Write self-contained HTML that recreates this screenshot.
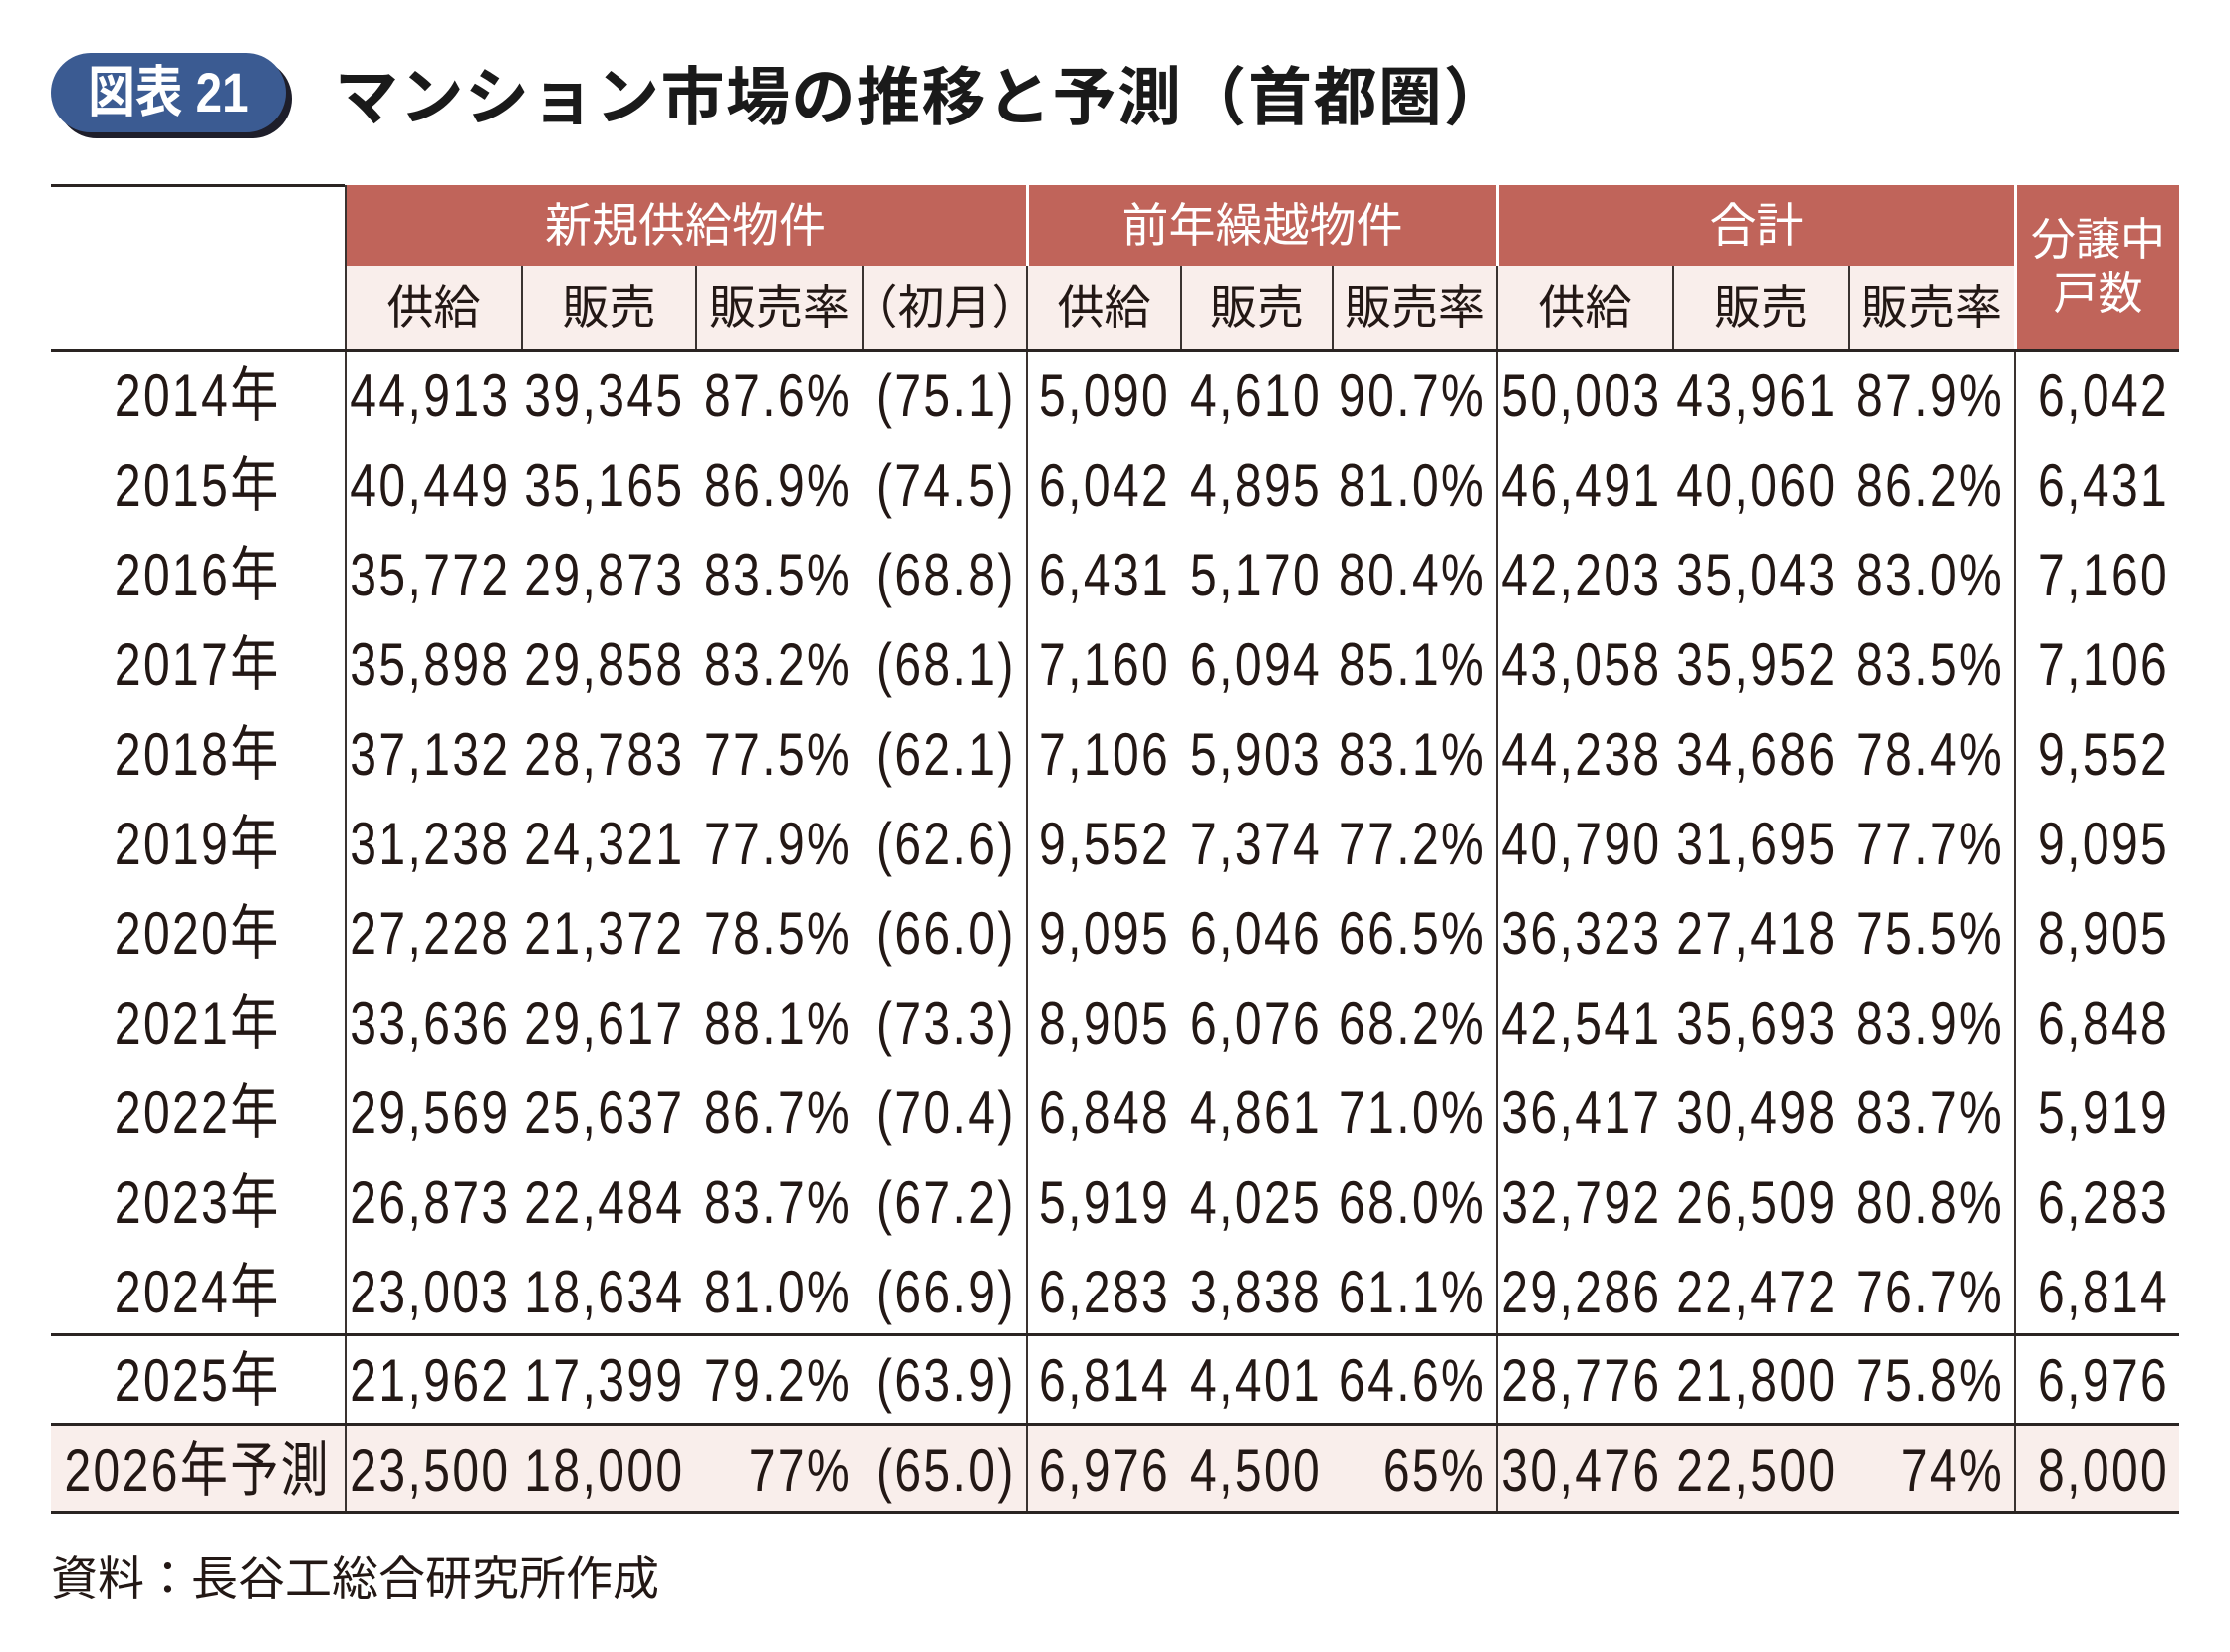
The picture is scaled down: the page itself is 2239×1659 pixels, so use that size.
<!DOCTYPE html>
<html><head><meta charset="utf-8">
<style>
*{margin:0;padding:0;box-sizing:border-box}
body{width:2239px;height:1659px;background:#fff;position:relative;overflow:hidden;font-family:"Liberation Sans","Noto Sans CJK JP",sans-serif;color:#231815}
.badge{position:absolute;left:51px;top:53px;width:236px;height:80px;border-radius:40px;background:#3b5b92;box-shadow:6px 6px 0 #1e1e2a;color:#fff;font:700 56px/80px "Liberation Sans","Noto Sans CJK JP",sans-serif;text-align:center}
.badge span{display:inline-block;transform:scaleX(0.85)}
.title{position:absolute;left:336px;top:56px;font:700 64px/84px "Liberation Sans","Noto Sans CJK JP",sans-serif;color:#1a1a1a;letter-spacing:1.5px}
.row{position:absolute;left:51px;width:2137px;display:flex}
.c{flex:none;display:flex;justify-content:flex-end;padding-right:13px;white-space:nowrap;font-size:60px}
.c span{display:inline-block;transform:scaleX(0.8);transform-origin:right center;letter-spacing:3px;margin-right:-3px}
.c.y{justify-content:center;padding-right:0}
.c.y span{transform-origin:center;margin-right:0}
.g{border-left:2px solid #3a3330}
.w0{width:295px}.w1{width:177px}.w2{width:175px}.w3{width:167px}.w4{width:165px}.w5{width:155px}.w6{width:152px}.w7{width:165px}.w8{width:177px}.w9{width:176px}.w10{width:167px}.w11{width:166px}
.d .c{height:90px;line-height:90px}
.sub{top:267px;height:84px}
.sub .c{height:84px;line-height:84px;background:#f9eeeb;justify-content:center;padding:0;font-size:47px;border-left:2px solid #3a3330}
.sub .c span{transform:none;letter-spacing:0;margin:0}
.sub .c.w0{background:#fff;border-left:none}
.hline{position:absolute;left:51px;width:2137px;background:#2a2422}
.red{position:absolute;top:186px;height:81px;background:#c0645a;color:#fff;font:47px/81px "Liberation Sans","Noto Sans CJK JP",sans-serif;text-align:center}
</style></head><body>
<div class="badge"><span>図表 21</span></div>
<div class="title">マンション市場の推移と予測（首都圏）</div>

<div class="hline" style="top:185px;width:295px;height:3px"></div>
<div class="red" style="left:346px;width:684px">新規供給物件</div>
<div class="red" style="left:1033px;width:469px">前年繰越物件</div>
<div class="red" style="left:1505px;width:517px">合計</div>
<div class="red" style="left:2025px;width:163px;height:165px;line-height:54px;padding-top:28px;font-size:45px">分譲中<br>戸数</div>
<div style="position:absolute;left:346px;top:186px;width:2px;height:165px;background:#3a3330"></div>

<div class="row sub">
<div class="c w0"></div><div class="c w1"><span>供給</span></div><div class="c w2"><span>販売</span></div><div class="c w3"><span>販売率</span></div><div class="c w4"><span>（初月）</span></div><div class="c w5"><span>供給</span></div><div class="c w6"><span>販売</span></div><div class="c w7"><span>販売率</span></div><div class="c w8"><span>供給</span></div><div class="c w9"><span>販売</span></div><div class="c w10"><span>販売率</span></div>
</div>
<div class="hline" style="top:350px;height:3px"></div>

<div class="row d" style="top:353px;flex-direction:column">
<div style="display:flex"><div class="c y w0"><span>2014年</span></div><div class="c w1 g"><span>44,913</span></div><div class="c w2"><span>39,345</span></div><div class="c w3"><span>87.6%</span></div><div class="c w4"><span>(75.1)</span></div><div class="c w5 g"><span>5,090</span></div><div class="c w6"><span>4,610</span></div><div class="c w7"><span>90.7%</span></div><div class="c w8 g"><span>50,003</span></div><div class="c w9"><span>43,961</span></div><div class="c w10"><span>87.9%</span></div><div class="c w11 g"><span>6,042</span></div></div>
<div style="display:flex"><div class="c y w0"><span>2015年</span></div><div class="c w1 g"><span>40,449</span></div><div class="c w2"><span>35,165</span></div><div class="c w3"><span>86.9%</span></div><div class="c w4"><span>(74.5)</span></div><div class="c w5 g"><span>6,042</span></div><div class="c w6"><span>4,895</span></div><div class="c w7"><span>81.0%</span></div><div class="c w8 g"><span>46,491</span></div><div class="c w9"><span>40,060</span></div><div class="c w10"><span>86.2%</span></div><div class="c w11 g"><span>6,431</span></div></div>
<div style="display:flex"><div class="c y w0"><span>2016年</span></div><div class="c w1 g"><span>35,772</span></div><div class="c w2"><span>29,873</span></div><div class="c w3"><span>83.5%</span></div><div class="c w4"><span>(68.8)</span></div><div class="c w5 g"><span>6,431</span></div><div class="c w6"><span>5,170</span></div><div class="c w7"><span>80.4%</span></div><div class="c w8 g"><span>42,203</span></div><div class="c w9"><span>35,043</span></div><div class="c w10"><span>83.0%</span></div><div class="c w11 g"><span>7,160</span></div></div>
<div style="display:flex"><div class="c y w0"><span>2017年</span></div><div class="c w1 g"><span>35,898</span></div><div class="c w2"><span>29,858</span></div><div class="c w3"><span>83.2%</span></div><div class="c w4"><span>(68.1)</span></div><div class="c w5 g"><span>7,160</span></div><div class="c w6"><span>6,094</span></div><div class="c w7"><span>85.1%</span></div><div class="c w8 g"><span>43,058</span></div><div class="c w9"><span>35,952</span></div><div class="c w10"><span>83.5%</span></div><div class="c w11 g"><span>7,106</span></div></div>
<div style="display:flex"><div class="c y w0"><span>2018年</span></div><div class="c w1 g"><span>37,132</span></div><div class="c w2"><span>28,783</span></div><div class="c w3"><span>77.5%</span></div><div class="c w4"><span>(62.1)</span></div><div class="c w5 g"><span>7,106</span></div><div class="c w6"><span>5,903</span></div><div class="c w7"><span>83.1%</span></div><div class="c w8 g"><span>44,238</span></div><div class="c w9"><span>34,686</span></div><div class="c w10"><span>78.4%</span></div><div class="c w11 g"><span>9,552</span></div></div>
<div style="display:flex"><div class="c y w0"><span>2019年</span></div><div class="c w1 g"><span>31,238</span></div><div class="c w2"><span>24,321</span></div><div class="c w3"><span>77.9%</span></div><div class="c w4"><span>(62.6)</span></div><div class="c w5 g"><span>9,552</span></div><div class="c w6"><span>7,374</span></div><div class="c w7"><span>77.2%</span></div><div class="c w8 g"><span>40,790</span></div><div class="c w9"><span>31,695</span></div><div class="c w10"><span>77.7%</span></div><div class="c w11 g"><span>9,095</span></div></div>
<div style="display:flex"><div class="c y w0"><span>2020年</span></div><div class="c w1 g"><span>27,228</span></div><div class="c w2"><span>21,372</span></div><div class="c w3"><span>78.5%</span></div><div class="c w4"><span>(66.0)</span></div><div class="c w5 g"><span>9,095</span></div><div class="c w6"><span>6,046</span></div><div class="c w7"><span>66.5%</span></div><div class="c w8 g"><span>36,323</span></div><div class="c w9"><span>27,418</span></div><div class="c w10"><span>75.5%</span></div><div class="c w11 g"><span>8,905</span></div></div>
<div style="display:flex"><div class="c y w0"><span>2021年</span></div><div class="c w1 g"><span>33,636</span></div><div class="c w2"><span>29,617</span></div><div class="c w3"><span>88.1%</span></div><div class="c w4"><span>(73.3)</span></div><div class="c w5 g"><span>8,905</span></div><div class="c w6"><span>6,076</span></div><div class="c w7"><span>68.2%</span></div><div class="c w8 g"><span>42,541</span></div><div class="c w9"><span>35,693</span></div><div class="c w10"><span>83.9%</span></div><div class="c w11 g"><span>6,848</span></div></div>
<div style="display:flex"><div class="c y w0"><span>2022年</span></div><div class="c w1 g"><span>29,569</span></div><div class="c w2"><span>25,637</span></div><div class="c w3"><span>86.7%</span></div><div class="c w4"><span>(70.4)</span></div><div class="c w5 g"><span>6,848</span></div><div class="c w6"><span>4,861</span></div><div class="c w7"><span>71.0%</span></div><div class="c w8 g"><span>36,417</span></div><div class="c w9"><span>30,498</span></div><div class="c w10"><span>83.7%</span></div><div class="c w11 g"><span>5,919</span></div></div>
<div style="display:flex"><div class="c y w0"><span>2023年</span></div><div class="c w1 g"><span>26,873</span></div><div class="c w2"><span>22,484</span></div><div class="c w3"><span>83.7%</span></div><div class="c w4"><span>(67.2)</span></div><div class="c w5 g"><span>5,919</span></div><div class="c w6"><span>4,025</span></div><div class="c w7"><span>68.0%</span></div><div class="c w8 g"><span>32,792</span></div><div class="c w9"><span>26,509</span></div><div class="c w10"><span>80.8%</span></div><div class="c w11 g"><span>6,283</span></div></div>
<div style="display:flex;height:88px;overflow:hidden"><div class="c y w0"><span>2024年</span></div><div class="c w1 g"><span>23,003</span></div><div class="c w2"><span>18,634</span></div><div class="c w3"><span>81.0%</span></div><div class="c w4"><span>(66.9)</span></div><div class="c w5 g"><span>6,283</span></div><div class="c w6"><span>3,838</span></div><div class="c w7"><span>61.1%</span></div><div class="c w8 g"><span>29,286</span></div><div class="c w9"><span>22,472</span></div><div class="c w10"><span>76.7%</span></div><div class="c w11 g"><span>6,814</span></div></div>
</div>
<div class="hline" style="top:1339px;height:3px"></div>
<div class="row d" style="top:1342px;height:88px;overflow:hidden"><div class="c y w0"><span>2025年</span></div><div class="c w1 g"><span>21,962</span></div><div class="c w2"><span>17,399</span></div><div class="c w3"><span>79.2%</span></div><div class="c w4"><span>(63.9)</span></div><div class="c w5 g"><span>6,814</span></div><div class="c w6"><span>4,401</span></div><div class="c w7"><span>64.6%</span></div><div class="c w8 g"><span>28,776</span></div><div class="c w9"><span>21,800</span></div><div class="c w10"><span>75.8%</span></div><div class="c w11 g"><span>6,976</span></div></div>
<div class="hline" style="top:1429px;height:3px"></div>
<div class="row d" style="top:1432px;height:86px;overflow:hidden;background:#f9eeeb"><div class="c y w0"><span>2026年予測</span></div><div class="c w1 g"><span>23,500</span></div><div class="c w2"><span>18,000</span></div><div class="c w3"><span>77%</span></div><div class="c w4"><span>(65.0)</span></div><div class="c w5 g"><span>6,976</span></div><div class="c w6"><span>4,500</span></div><div class="c w7"><span>65%</span></div><div class="c w8 g"><span>30,476</span></div><div class="c w9"><span>22,500</span></div><div class="c w10"><span>74%</span></div><div class="c w11 g"><span>8,000</span></div></div>
<div class="hline" style="top:1517px;height:3px"></div>

<div style="position:absolute;left:51px;top:1554px;font:47px/64px 'Liberation Sans','Noto Sans CJK JP',sans-serif;color:#231815">資料：長谷工総合研究所作成</div>
</body></html>
